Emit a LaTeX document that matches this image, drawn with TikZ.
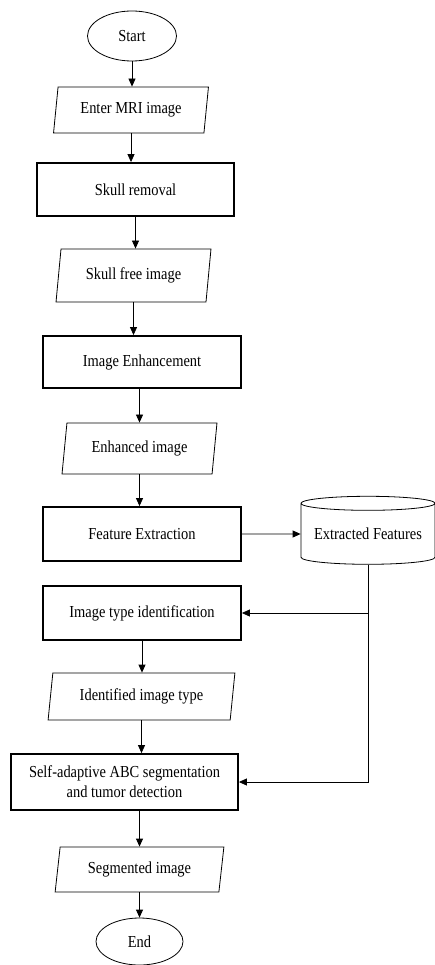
\documentclass[tikz,border=0pt]{standalone}
\usepackage{fontspec}
\setmainfont{Liberation Serif}[FakeStretch=0.86]
\usetikzlibrary{shapes.geometric,shapes.symbols,arrows.meta}

\begin{document}
\begin{tikzpicture}[x=1pt,y=-1pt,font=\fontsize{16.8}{20}\selectfont,
	terminal/.style={ellipse,draw,line width=0.8pt,inner sep=0pt},
	process/.style={rectangle,draw,line width=1.8pt,inner sep=0pt,align=center},
	io/.style={trapezium,trapezium left angle=78,trapezium right angle=102,trapezium stretches=true,draw,line width=0.8pt,inner sep=0pt},
	store/.style={cylinder,shape border rotate=90,aspect=0.13,draw,line width=0.8pt,inner sep=0pt},
	flow/.style={-{Triangle[length=8pt,width=7pt]},line width=0.8pt}]
		\useasboundingbox (0,0) rectangle (435,965);
		% main column
		\node[terminal,minimum width=89pt,minimum height=50pt] (start) at (132,36) {Start};
		\node[io,minimum width=155pt,minimum height=46pt] (mri) at (131,110) {Enter MRI image};
		\node[process,minimum width=197pt,minimum height=53pt] (skull) at (135.5,189.5) {Skull removal};
		\node[io,minimum width=155pt,minimum height=53pt] (free) at (133.5,275.5) {Skull free image};
		\node[process,minimum width=198pt,minimum height=52pt] (enh) at (142,362) {Image Enhancement};
		\node[io,minimum width=155pt,minimum height=51pt] (enhimg) at (139.5,448.5) {Enhanced image};
		\node[process,minimum width=198pt,minimum height=54pt] (feat) at (142,534) {Feature Extraction};
		\node[process,minimum width=198pt,minimum height=54pt] (type) at (142,613) {Image type identification};
		\node[io,minimum width=187pt,minimum height=47pt] (typeimg) at (141.5,696.5) {Identified image type};
		\node[process,minimum width=227pt,minimum height=56pt] (abc) at (124.5,782) {Self-adaptive ABC segmentation\\and tumor detection};
		\node[io,minimum width=169pt,minimum height=45pt] (seg) at (139.5,869.5) {Segmented image};
		\node[terminal,minimum width=87pt,minimum height=47pt] (end) at (139.5,941.5) {End};
		% store
		\node[store,minimum width=134pt,minimum height=68pt] (feats) at (368,534) {Extracted Features};
		% flow
		\draw[flow] (start.south) -- (start.south |- mri.north);
		\draw[flow] (mri.south) -- (mri.south |- skull.north);
		\draw[flow] (skull.south) -- (skull.south |- free.north);
		\draw[flow] (free.south) -- (free.south |- enh.north);
		\draw[flow] (enh.south -| enhimg.north) -- (enhimg.north);
		\draw[flow] (enhimg.south) -- (enhimg.south |- feat.north);
		\draw[flow] (feat.east) -- (feats.west);
		\draw[flow] (feats.south) |- (type.east);
		\draw[flow] (feats.south) |- (abc.east);
		\draw[flow] (type.south) -- (type.south |- typeimg.north);
		\draw[flow] (typeimg.south) -- (typeimg.south |- abc.north);
		\draw[flow] (abc.south -| seg.north) -- (seg.north);
		\draw[flow] (seg.south) -- (seg.south |- end.north);
\end{tikzpicture}
\end{document}
